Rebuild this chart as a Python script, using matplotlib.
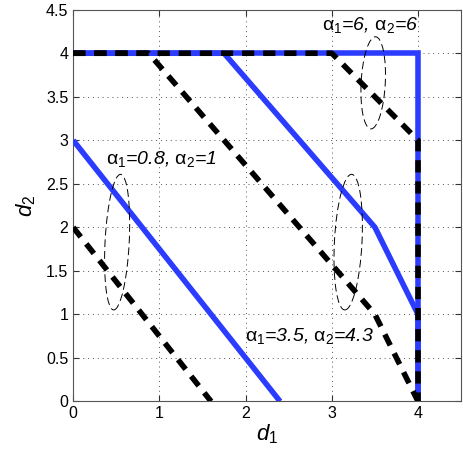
import matplotlib
matplotlib.use("Agg")
import matplotlib.pyplot as plt
from matplotlib.patches import Ellipse

plt.rcParams['font.family'] = ['Liberation Sans', 'DejaVu Sans']
plt.rcParams['mathtext.fontset'] = 'custom'
plt.rcParams['mathtext.rm'] = 'Liberation Sans'
plt.rcParams['mathtext.it'] = 'Liberation Sans:italic'
plt.rcParams['mathtext.default'] = 'it'

# alpha1=0.8, alpha2=1
blue_a_x = [0, 2.4]
blue_a_y = [3, 0]
black_a_x = [0, 1.6]
black_a_y = [2, 0]
# alpha1=3.5, alpha2=4.3
blue_b_x = [0, 1.75, 3.5, 4, 4]
blue_b_y = [4, 4, 2, 1, 0]
black_b_x = [0, 0.875, 3.5, 4]
black_b_y = [4, 4, 1, 0]
# alpha1=6, alpha2=6
blue_c_x = [0, 4, 4]
blue_c_y = [4, 4, 0]
black_c_x = [0, 3, 4, 4]
black_c_y = [4, 4, 3, 0]

x_ticks = [0, 1, 2, 3, 4]
y_ticks = [0, 0.5, 1, 1.5, 2, 2.5, 3, 3.5, 4, 4.5]

labels = [r'$\mathrm{\alpha}_{\mathit{1}}$=0.8, $\mathrm{\alpha}_{\mathit{2}}$=1',
          r'$\mathrm{\alpha}_{\mathit{1}}$=3.5, $\mathrm{\alpha}_{\mathit{2}}$=4.3',
          r'$\mathrm{\alpha}_{\mathit{1}}$=6, $\mathrm{\alpha}_{\mathit{2}}$=6']
label_pos = [(1.02, 2.78), (2.74, 0.75), (3.44, 4.33)]
ellipses = [(0.51, 1.83, 0.28, 1.56), (3.19, 1.83, 0.32, 1.56), (3.48, 3.66, 0.28, 1.06)]

blue = '#2b3cff'

fig = plt.figure(figsize=(4.63, 4.63), dpi=100)
ax = fig.add_axes([0.158, 0.133, 0.838, 0.846])

lw = 4.0
for bx, by in [(blue_a_x, blue_a_y), (blue_b_x, blue_b_y), (blue_c_x, blue_c_y)]:
    ax.plot(bx, by, color=blue, lw=lw, solid_capstyle='butt', solid_joinstyle='miter', zorder=3)
for kx, ky in [(black_a_x, black_a_y), (black_b_x, black_b_y), (black_c_x, black_c_y)]:
    ax.plot(kx, ky, color='black', lw=lw, dashes=(2.2, 1.6), dash_capstyle='butt', zorder=4)

for (cx, cy, w, h) in ellipses:
    ax.add_patch(Ellipse((cx, cy), w, h, angle=-3, fill=False, ec='black', lw=0.7,
                         ls=(0, (8, 4)), zorder=5))

for t, (px, py) in zip(labels, label_pos):
    ax.text(px, py, t, fontsize=14, style='italic', ha='center', va='center', zorder=6)

ax.set_xlim(0, 4.5)
ax.set_ylim(0, 4.5)
ax.set_xticks(x_ticks)
ax.set_yticks(y_ticks)
ax.set_xticklabels([str(v) for v in x_ticks])
ax.set_yticklabels(['0', '0.5', '1', '1.5', '2', '2.5', '3', '3.5', '4', '4.5'])
ax.tick_params(direction='in', top=True, right=True, labelsize=11.5, length=4, color='#333333')
ax.grid(True, ls=(0, (1, 4)), color='#555555', lw=0.7)
for s in ax.spines.values():
    s.set_color('#555555')
    s.set_linewidth(0.8)
ax.set_xlabel(r'$d_{\mathit{1}}$', fontsize=16, labelpad=1)
ax.set_ylabel(r'$d_{\mathit{2}}$', fontsize=16, labelpad=6)

fig.savefig('out.png', dpi=100)
